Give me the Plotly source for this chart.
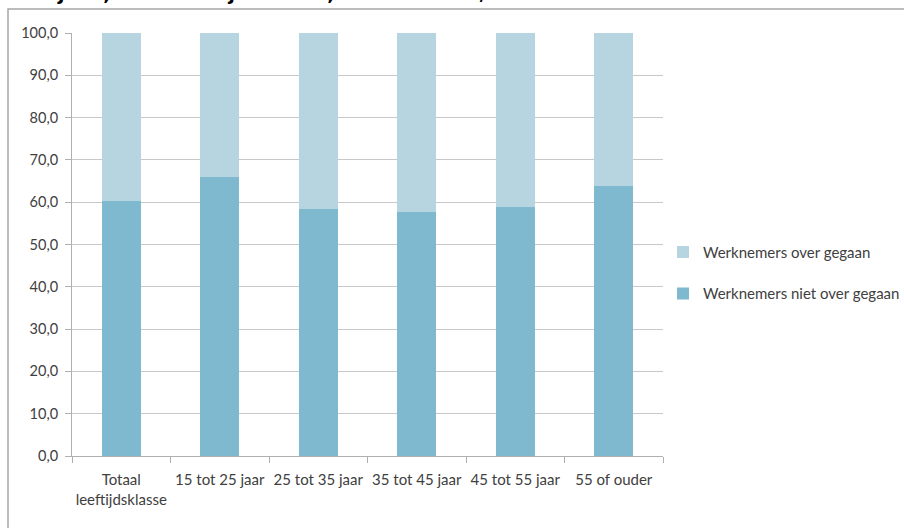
import plotly.graph_objects as go

categories = ["Totaal<br>leeftijdsklasse", "15 tot 25 jaar", "25 tot 35 jaar",
              "35 tot 45 jaar", "45 tot 55 jaar", "55 of ouder"]
niet_over = [60.2, 65.9, 58.3, 57.6, 58.8, 63.8]
over = [round(100 - v, 1) for v in niet_over]
y_ticks = [0, 10, 20, 30, 40, 50, 60, 70, 80, 90, 100]
title_text = "bedrijven, naar leeftijdsklasse, totaal 2007 t/m 2013"

font_fam = "Lato, Noto Sans, sans-serif"

fig = go.Figure()
fig.add_trace(go.Bar(x=categories, y=niet_over, name="Werknemers niet over gegaan",
                     marker=dict(color="#7EB9D0", line=dict(width=0)),
                     legendgroup="a", legendrank=2))
fig.add_trace(go.Bar(x=categories, y=over, name="Werknemers over gegaan",
                     marker=dict(color="#B7D5E0", line=dict(width=0)),
                     legendgroup="b", legendrank=1))

fig.update_layout(
    width=904, height=528,
    barmode="stack", bargap=0.6,
    separators=",.",
    paper_bgcolor="white", plot_bgcolor="white",
    margin=dict(l=72, r=241, t=33, b=72, autoexpand=False),
    font=dict(family=font_fam, size=15, color="#404040"),
    legend=dict(x=1.0, xanchor="left", y=0.433, yanchor="middle",
                traceorder="grouped", tracegroupgap=19,
                font=dict(size=15, color="#404040"), itemwidth=30),
    showlegend=True,
)
fig.update_yaxes(range=[0, 100], tickvals=y_ticks, tickformat=".1f",
                 showgrid=True, gridcolor="#C8C8C8", gridwidth=1,
                 showline=True, linecolor="#B0B0B0", linewidth=1,
                 ticks="outside", ticklen=6, tickcolor="#B0B0B0",
                 ticklabelstandoff=4, automargin=False,
                 zeroline=False, tickfont=dict(size=14.5, color="#404040"))
fig.update_xaxes(showline=True, linecolor="#B0B0B0", linewidth=1,
                 ticks="outside", ticklen=6, tickcolor="#B0B0B0",
                 tickson="boundaries", ticklabelstandoff=10, tickangle=0,
                 automargin=False,
                 tickfont=dict(size=15, color="#404040"))

# outer frame (cut off at right/bottom)
fig.add_shape(type="rect", xref="paper", yref="paper",
              x0=(8 - 72) / 591, x1=1.6, y0=-0.5, y1=(456 - 9) / 423,
              line=dict(color="#A6A6A6", width=1.5), layer="below")

fig.add_annotation(text="<b>" + title_text + "</b>", xref="paper", yref="paper",
                   x=(0 - 72) / 591, y=(456 - 6) / 423, xanchor="left", yanchor="bottom",
                   showarrow=False,
                   font=dict(family="DejaVu Sans, Verdana, sans-serif", size=19, color="#000000"))

fig.write_html("out.html")
